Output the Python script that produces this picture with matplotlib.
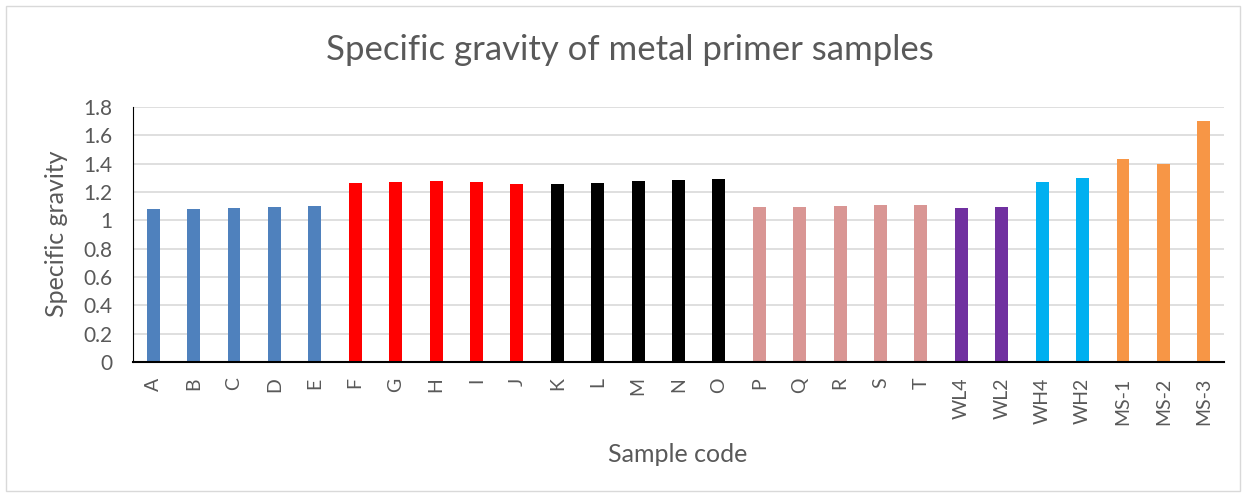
import matplotlib
matplotlib.use("Agg")
import matplotlib.pyplot as plt
from matplotlib.patches import Rectangle

# Muestras y gravedad especifica medida
codigos = ["A", "B", "C", "D", "E", "F", "G", "H", "I", "J", "K", "L", "M", "N", "O",
           "P", "Q", "R", "S", "T", "WL4", "WL2", "WH4", "WH2", "MS-1", "MS-2", "MS-3"]
gravedad = [1.078, 1.082, 1.087, 1.092, 1.099,
            1.261, 1.268, 1.275, 1.268, 1.254,
            1.254, 1.261, 1.275, 1.282, 1.289,
            1.092, 1.092, 1.099, 1.106, 1.106,
            1.085, 1.092, 1.268, 1.296, 1.431, 1.395, 1.699]
# Un color por grupo de muestras
grupos = ["#4F81BD"] * 5 + ["#FF0000"] * 5 + ["#000000"] * 5 + ["#D99694"] * 5 \
    + ["#7030A0"] * 2 + ["#00B0F0"] * 2 + ["#F79646"] * 3

gris = "#595959"
plt.rcParams['font.family'] = ['Lato', 'DejaVu Sans']

fig = plt.figure(figsize=(12.46, 4.97), dpi=100)
ax = fig.add_axes([133 / 1246, 1 - 362 / 497, (1224 - 133) / 1246, (362 - 107) / 497])

x = range(len(codigos))
ax.bar(x, gravedad, width=0.32, color=grupos, zorder=3)

ax.set_ylim(0, 1.8)
ax.set_xlim(-0.5, len(codigos) - 0.5)
ax.set_yticks([i * 0.2 for i in range(10)])
ax.set_yticklabels(["0", "0.2", "0.4", "0.6", "0.8", "1", "1.2", "1.4", "1.6", "1.8"])
ax.set_xticks(list(x))
ax.set_xticklabels(codigos, rotation=90, fontsize=14, color=gris)
ax.tick_params(axis='y', labelsize=15, labelcolor=gris, length=0, pad=15)
ax.tick_params(axis='x', length=0, pad=11)
ax.grid(axis='y', color="#D9D9D9", linewidth=1.2, zorder=0)

for lado in ["top", "right"]:
    ax.spines[lado].set_visible(False)
ax.spines["left"].set_color("black")
ax.spines["bottom"].set_color("black")
ax.spines["bottom"].set_linewidth(1.5)
ax.spines["bottom"].set_zorder(4)

fig.text(57 / 1246, 1 - 234 / 497, "Specific gravity", fontsize=18, color=gris,
         rotation=90, ha='center', va='center')
fig.text(678 / 1246, 1 - 455 / 497, "Sample code", fontsize=18, color=gris,
         ha='center', va='center')
fig.text(630 / 1246, 1 - 50 / 497, "Specific gravity of metal primer samples",
         fontsize=25, color=gris, ha='center', va='center')

# Marco del grafico
fig.patches.append(Rectangle((6 / 1246, 6 / 497), 1 - 12 / 1246, 1 - 12 / 497,
                             transform=fig.transFigure, fill=False,
                             edgecolor="#D9D9D9", linewidth=1))

plt.savefig("out.png", dpi=100)
